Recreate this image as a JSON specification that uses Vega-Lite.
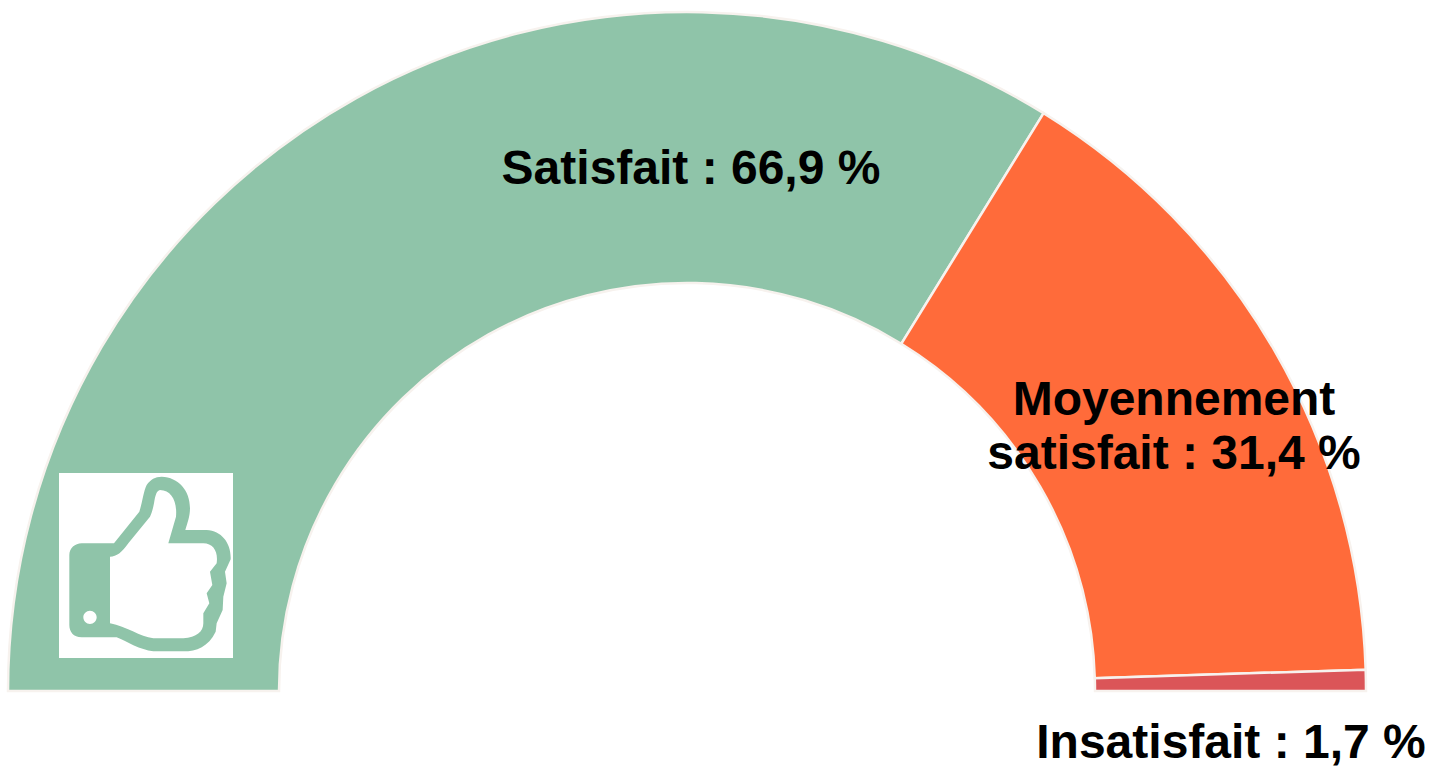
{"$schema":"https://vega.github.io/schema/vega-lite/v6.json","width":1431,"height":767,"padding":0,"autosize":{"type":"none"},"background":"white","config":{"view":{"stroke":null}},"data":{"values":[{"category":"Satisfait","label":"Satisfait : 66,9 %","share":67.6,"rank":1},{"category":"Moyennement satisfait","label":"Moyennement\nsatisfait : 31,4 %","share":31.4,"rank":2},{"category":"Insatisfait","label":"Insatisfait : 1,7 %","share":1.0,"rank":3}]},"layer":[{"mark":{"type":"arc","innerRadius":408,"outerRadius":679,"stroke":"#f7f2ee","strokeWidth":2.5},"encoding":{"x":{"value":687},"y":{"value":691},"theta":{"field":"share","type":"quantitative","stack":true,"scale":{"domain":[0,100],"range":[-1.5708,1.5708]}},"order":{"field":"rank","type":"ordinal"},"color":{"field":"category","type":"nominal","legend":null,"scale":{"domain":["Satisfait","Moyennement satisfait","Insatisfait"],"range":["#8fc4a9","#ff6b3a","#db5558"]}}}},{"data":{"values":[{"item":"icon"}]},"mark":{"type":"rect","color":"white"},"encoding":{"x":{"value":59},"x2":{"value":233},"y":{"value":473},"y2":{"value":658}}},{"data":{"values":[{"item":"icon"}]},"mark":{"type":"point","filled":true,"opacity":1,"fill":"#8fc4a9","strokeWidth":0,"size":0.4444,"shape":"M222 250 L298 155 C308 125 310 95 320 75 C332 58 345 50 365 50 C415 52 450 90 450 145 C450 170 442 190 436 210 L500 210 C545 212 574 250 572 298 L555 335 L560 370 L550 410 L548 450 L530 490 L527 515 C505 560 470 574 430 574 L340 574 C300 570 262 545 230 532 L125 532 C100 532 88 515 88 495 L88 285 C88 265 105 250 125 250 Z M210 290 L210 490 C260 500 300 530 340 535 L430 535 C470 532 490 515 490 490 L490 460 L508 430 L500 400 L517 375 L510 335 L530 310 C535 275 520 250 490 250 L385 250 L408 170 C412 125 395 90 360 90 C350 92 346 105 342 130 C338 150 335 160 330 170 L265 250 C245 278 230 290 210 290 Z M170 472 A20 20 0 0 0 130 472 A20 20 0 0 0 170 472 Z"},"encoding":{"x":{"value":40},"y":{"value":460}}},{"transform":[{"filter":"datum.rank==1"}],"mark":{"type":"text","font":"Liberation Sans","fontWeight":"bold","fontSize":48,"color":"black","align":"center","baseline":"alphabetic"},"encoding":{"x":{"value":691},"y":{"value":184},"text":{"field":"label"}}},{"transform":[{"filter":"datum.rank==2"}],"mark":{"type":"text","font":"Liberation Sans","fontWeight":"bold","fontSize":48,"color":"black","align":"center","baseline":"alphabetic","lineBreak":"\n","lineHeight":54},"encoding":{"x":{"value":1174},"y":{"value":415},"text":{"field":"label"}}},{"transform":[{"filter":"datum.rank==3"}],"mark":{"type":"text","font":"Liberation Sans","fontWeight":"bold","fontSize":48,"color":"black","align":"center","baseline":"alphabetic"},"encoding":{"x":{"value":1231},"y":{"value":758},"text":{"field":"label"}}}]}
